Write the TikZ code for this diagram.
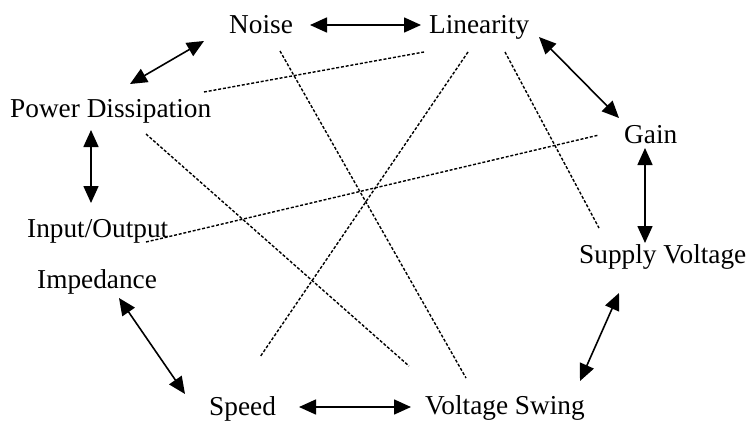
\documentclass[tikz,border=0pt]{standalone}
\usepackage{fontspec}
\setmainfont{Liberation Serif}
\usetikzlibrary{arrows.meta}
\begin{document}
\begin{tikzpicture}[x=1pt,y=-1pt,
  lbl/.style={anchor=base west,inner sep=0pt,font=\fontsize{27.3}{32}\selectfont},
  biarrow/.style={line width=1.6pt,{Triangle[length=17pt,width=15pt]}-{Triangle[length=17pt,width=15pt]}},
  dotline/.style={line width=1.4pt,dash pattern=on 3pt off 1.8pt}]
\useasboundingbox (0,0) rectangle (752,421);
% labels
\node[lbl] (noise) at (229,33) {Noise};
\node[lbl] (lin) at (429,33) {Linearity};
\node[lbl] (pd) at (10,117) {Power Dissipation};
\node[lbl] (io) at (27,237) {Input/Output};
\node[lbl] (imp) at (37,288) {Impedance};
\node[lbl] (speed) at (209,415) {Speed};
\node[lbl] (vs) at (425,414) {Voltage Swing};
\node[lbl] (gain) at (624,143) {Gain};
\node[lbl] (sv) at (579,263) {Supply Voltage};
% arrow end points
\coordinate (nL) at (310,25);  \coordinate (lR) at (421,25);
\coordinate (pdU) at (130,84); \coordinate (nD) at (204,41);
\coordinate (pdD) at (91,130); \coordinate (ioU) at (91,203);
\coordinate (lD) at (539,37);  \coordinate (gU) at (619,118);
\coordinate (gD) at (645,148); \coordinate (svU) at (645,243);
\coordinate (impD) at (119,298); \coordinate (spU) at (185,394);
\coordinate (spR) at (299,407); \coordinate (vsL) at (411,407);
\coordinate (vsU) at (580,381); \coordinate (svD) at (619,293);
\draw[biarrow] (nL) -- (lR);
\draw[biarrow] (pdU) -- (nD);
\draw[biarrow] (pdD) -- (ioU);
\draw[biarrow] (lD) -- (gU);
\draw[biarrow] (gD) -- (svU);
\draw[biarrow] (impD) -- (spU);
\draw[biarrow] (spR) -- (vsL);
\draw[biarrow] (vsU) -- (svD);
% dotted links
\coordinate (d1a) at (204,92);  \coordinate (d1b) at (424,52);
\coordinate (d2a) at (280,51);  \coordinate (d2b) at (466,378);
\coordinate (d3a) at (146,134); \coordinate (d3b) at (409,366);
\coordinate (d4a) at (468,52);  \coordinate (d4b) at (260,357);
\coordinate (d5a) at (505,52);  \coordinate (d5b) at (599,228);
\coordinate (d6a) at (146,242); \coordinate (d6b) at (599,135);
\draw[dotline] (d1a) -- (d1b);
\draw[dotline] (d2a) -- (d2b);
\draw[dotline] (d3a) -- (d3b);
\draw[dotline] (d4a) -- (d4b);
\draw[dotline] (d5a) -- (d5b);
\draw[dotline] (d6a) -- (d6b);
\end{tikzpicture}
\end{document}
